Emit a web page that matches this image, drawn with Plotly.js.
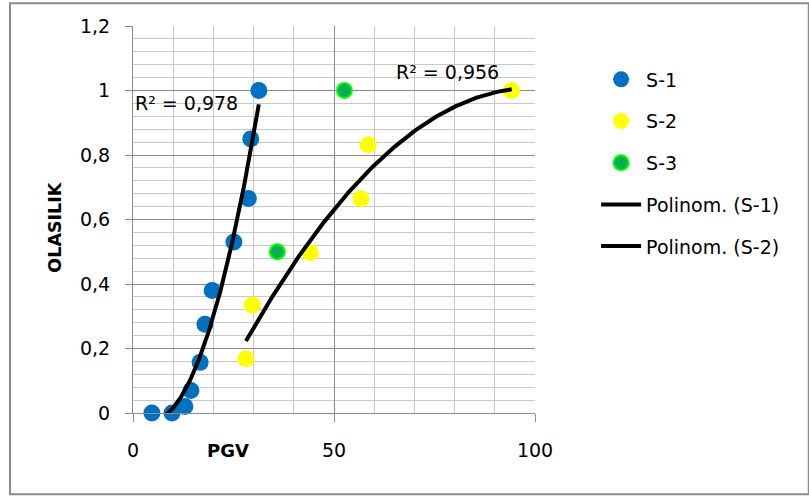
<!DOCTYPE html>
<html>
<head>
<meta charset="utf-8">
<script src="https://cdn.plot.ly/plotly-3.0.1.min.js"></script>
<style>
  html, body { margin: 0; padding: 0; background: #ffffff; }
  #chart { width: 809px; height: 498px; }
</style>
</head>
<body>
<div id="chart"></div>
<script>
// PGV vs. probability (OLASILIK) for three sites
var s1PGV = [4.7, 9.7, 12.9, 14.4, 16.7, 17.9, 19.7, 25.1, 28.7, 29.3, 31.3];
var s1Prob = [0.0, 0.0, 0.02, 0.07, 0.157, 0.275, 0.38, 0.53, 0.665, 0.85, 1.0];

var s2PGV = [28.1, 29.7, 44.1, 56.7, 58.5, 94.2];
var s2Prob = [0.168, 0.335, 0.497, 0.664, 0.832, 1.0];

var s3PGV = [35.9, 52.6];
var s3Prob = [0.5, 1.0];

var seriesNames = ['S-1', 'S-2', 'S-3', 'Polinom. (S-1)', 'Polinom. (S-2)'];
var r2Labels = ['R² = 0,978', 'R² = 0,956'];
var xTicks = [0, 50, 100];
var yTicks = [0, 0.2, 0.4, 0.6, 0.8, 1, 1.2];
var yTickText = ['0', '0,2', '0,4', '0,6', '0,8', '1', '1,2'];

// least-squares polynomial fit (normal equations + Gaussian elimination)
function polyfit(xs, ys, deg) {
  var n = deg + 1, A = [], b = [];
  for (var i = 0; i < n; i++) {
    A.push([]);
    for (var j = 0; j < n; j++) {
      var s = 0;
      for (var k = 0; k < xs.length; k++) s += Math.pow(xs[k], i + j);
      A[i].push(s);
    }
    var t = 0;
    for (var k2 = 0; k2 < xs.length; k2++) t += ys[k2] * Math.pow(xs[k2], i);
    b.push(t);
  }
  for (var c = 0; c < n; c++) {
    var p = c;
    for (var r = c + 1; r < n; r++) if (Math.abs(A[r][c]) > Math.abs(A[p][c])) p = r;
    var tmp = A[c]; A[c] = A[p]; A[p] = tmp;
    var tb = b[c]; b[c] = b[p]; b[p] = tb;
    for (var r2 = c + 1; r2 < n; r2++) {
      var f = A[r2][c] / A[c][c];
      for (var cc = c; cc < n; cc++) A[r2][cc] -= f * A[c][cc];
      b[r2] -= f * b[c];
    }
  }
  var coef = new Array(n);
  for (var r3 = n - 1; r3 >= 0; r3--) {
    var s2 = b[r3];
    for (var cc2 = r3 + 1; cc2 < n; cc2++) s2 -= A[r3][cc2] * coef[cc2];
    coef[r3] = s2 / A[r3][r3];
  }
  return coef;
}

// sample the fitted polynomial across the series' PGV span
function trendCurve(xs, ys, deg) {
  var coef = polyfit(xs, ys, deg);
  var lo = Math.min.apply(null, xs), hi = Math.max.apply(null, xs);
  var cx = [], cy = [];
  for (var i = 0; i <= 200; i++) {
    var x = lo + (hi - lo) * i / 200, y = 0;
    for (var k = 0; k < coef.length; k++) y += coef[k] * Math.pow(x, k);
    cx.push(x); cy.push(y);
  }
  return {x: cx, y: cy};
}

var t1 = trendCurve(s1PGV, s1Prob, 2);
var t2 = trendCurve(s2PGV, s2Prob, 2);

var FONT = 'DejaVu Sans, sans-serif';

var traces = [
  {x: s1PGV, y: s1Prob, name: seriesNames[0], mode: 'markers', type: 'scatter',
   cliponaxis: false, legendgroup: 'a',
   marker: {color: '#0070C0', size: 17}},
  {x: s2PGV, y: s2Prob, name: seriesNames[1], mode: 'markers', type: 'scatter',
   cliponaxis: false, legendgroup: 'b',
   marker: {color: '#FFFF00', size: 17}},
  {x: s3PGV, y: s3Prob, name: seriesNames[2], mode: 'markers', type: 'scatter',
   cliponaxis: false, legendgroup: 'c',
   marker: {color: '#00B050', size: 15, line: {color: '#00FF00', width: 2}}},
  {x: t1.x, y: t1.y, name: seriesNames[3], mode: 'lines', type: 'scatter',
   legendgroup: 'd', line: {color: '#000000', width: 4}},
  {x: t2.x, y: t2.y, name: seriesNames[4], mode: 'lines', type: 'scatter',
   legendgroup: 'e', line: {color: '#000000', width: 4}}
];

var layout = {
  width: 809, height: 498,
  margin: {l: 133, r: 274, t: 26, b: 84.5, pad: 0},
  paper_bgcolor: '#ffffff', plot_bgcolor: '#ffffff',
  font: {family: FONT, size: 19, color: '#000000'},
  showlegend: true,
  legend: {x: 1.152, y: 0.911, xanchor: 'left', yanchor: 'top',
           font: {family: FONT, size: 19, color: '#000000'},
           tracegroupgap: 14, itemwidth: 40, bgcolor: 'rgba(0,0,0,0)'},
  xaxis: {
    range: [0, 100], tickvals: xTicks, ticktext: xTicks.map(String),
    showgrid: true, gridcolor: '#8c8c8c', gridwidth: 1,
    minor: {dtick: 10, showgrid: true, gridcolor: '#c8c8c8', gridwidth: 1},
    showline: true, linecolor: '#8c8c8c', linewidth: 1,
    ticks: 'outside', ticklen: 8, tickcolor: '#8c8c8c',
    ticklabelstandoff: 12, zeroline: false, fixedrange: true
  },
  yaxis: {
    range: [0, 1.2], tickvals: yTicks, ticktext: yTickText,
    showgrid: true, gridcolor: '#8c8c8c', gridwidth: 1,
    minor: {dtick: 0.04, showgrid: true, gridcolor: '#c8c8c8', gridwidth: 1},
    showline: true, linecolor: '#8c8c8c', linewidth: 1,
    ticks: 'outside', ticklen: 7, tickcolor: '#8c8c8c',
    ticklabelstandoff: 11, zeroline: false, fixedrange: true
  },
  annotations: [
    {xref: 'paper', yref: 'paper', x: -0.194, y: 0.479, text: '<b>OLASILIK</b>',
     textangle: -90, showarrow: false, font: {family: FONT, size: 17.5},
     xanchor: 'center', yanchor: 'middle'},
    {xref: 'paper', yref: 'paper', x: 0.236, y: -0.097, text: '<b>PGV</b>',
     showarrow: false, font: {family: FONT, size: 18},
     xanchor: 'center', yanchor: 'middle'},
    {xref: 'x', yref: 'y', x: 0.1, y: 0.96, text: r2Labels[0], showarrow: false,
     xanchor: 'left', yanchor: 'middle', font: {family: FONT, size: 19}},
    {xref: 'x', yref: 'y', x: 64.8, y: 1.056, text: r2Labels[1], showarrow: false,
     xanchor: 'left', yanchor: 'middle', font: {family: FONT, size: 19}}
  ],
  shapes: [
    {type: 'rect', xref: 'paper', yref: 'paper', layer: 'below',
     x0: -0.306, x1: 1.681, y0: -0.210, y1: 1.059,
     line: {color: '#8c8c8c', width: 2}, fillcolor: 'rgba(0,0,0,0)'}
  ]
};

Plotly.newPlot('chart', traces, layout, {displayModeBar: false, staticPlot: true});
</script>
</body>
</html>
